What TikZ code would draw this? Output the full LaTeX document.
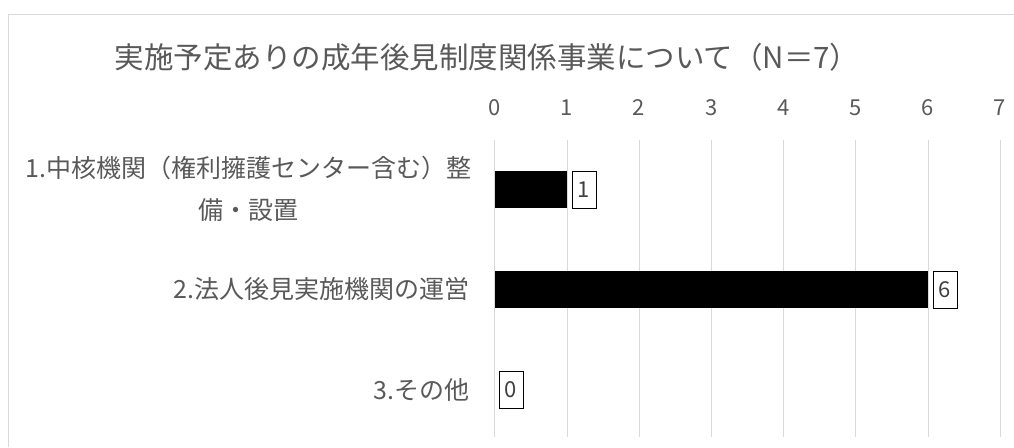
\documentclass[tikz,border=0pt]{standalone}
\usepackage{fontspec}
\setmainfont{Noto Sans CJK JP}
\usepackage{tikz}

\definecolor{txtgray}{HTML}{595959}
\definecolor{gridgray}{HTML}{D9D9D9}

\begin{document}
\begin{tikzpicture}[x=1pt, y=-1pt,
    ticklabel/.style={text=txtgray, font=\fontsize{22}{26}\selectfont, inner sep=0pt},
    catlabel/.style={text=txtgray, font=\fontsize{25}{42}\selectfont, inner sep=0pt, anchor=east, align=center},
    valbox/.style={draw=black, fill=white, text=black!75, font=\fontsize{22}{26}\selectfont, inner sep=0pt, minimum width=24pt, minimum height=37pt}]

    \useasboundingbox (0,0) rectangle (1014,447);

    \draw[gridgray, semithick] (8,447) -- (8,14) -- (1014,14); % chart frame

    \draw[gridgray] (494.5,140) -- (494.5,437); % grid 0
    \draw[gridgray] (566.7,140) -- (566.7,437); % grid 1
    \draw[gridgray] (638.9,140) -- (638.9,437); % grid 2
    \draw[gridgray] (711.1,140) -- (711.1,437); % grid 3
    \draw[gridgray] (783.3,140) -- (783.3,437); % grid 4
    \draw[gridgray] (855.5,140) -- (855.5,437); % grid 5
    \draw[gridgray] (927.7,140) -- (927.7,437); % grid 6
    \draw[gridgray] (999.9,140) -- (999.9,437); % grid 7

    \node[text=txtgray, font=\fontsize{29.5}{36}\selectfont] (title) at (487,57) {実施予定ありの成年後見制度関係事業について（N＝7）};

    \node[ticklabel] (t0) at (494.5,108) {0};
    \node[ticklabel] (t1) at (566.7,108) {1};
    \node[ticklabel] (t2) at (638.9,108) {2};
    \node[ticklabel] (t3) at (711.1,108) {3};
    \node[ticklabel] (t4) at (783.3,108) {4};
    \node[ticklabel] (t5) at (855.5,108) {5};
    \node[ticklabel] (t6) at (927.7,108) {6};
    \node[ticklabel] (t7) at (999.9,108) {7};

    \fill[black] (494.5,171) rectangle (566.7,208); % bar 1
    \fill[black] (494.5,271) rectangle (927.7,308); % bar 2

    \node[valbox] (v1) at (584,189.5) {1};
    \node[valbox] (v2) at (945,289.5) {6};
    \node[valbox] (v3) at (511,390) {0};

    \node[catlabel] (c1) at (472,189) {1.中核機関（権利擁護センター含む）整\\備・設置};
    \node[catlabel] (c2) at (470,289.5) {2.法人後見実施機関の運営};
    \node[catlabel] (c3) at (470,390) {3.その他};
\end{tikzpicture}
\end{document}
